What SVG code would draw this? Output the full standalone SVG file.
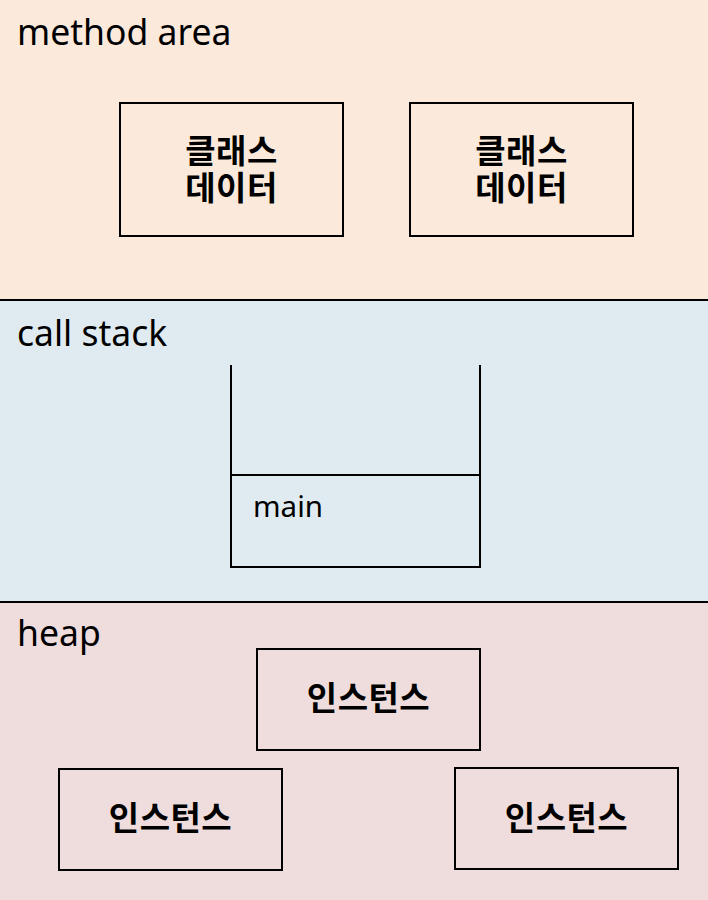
<svg xmlns="http://www.w3.org/2000/svg" width="708" height="900" viewBox="0 0 708 900">
<style>
.lbl{font-family:"Noto Sans","Noto Sans CJK KR",sans-serif;font-size:35.5px;fill:#000}
.kr{font-family:"Noto Sans CJK KR",sans-serif;font-size:33px;font-weight:bold;fill:#000;text-anchor:middle;letter-spacing:0.5px}
.box{fill:none;stroke:#000;stroke-width:2}
.ln{stroke:#000;stroke-width:2;fill:none}
</style>
<g id="regions">
<rect x="0" y="0" width="708" height="300" fill="#FBE9DB"/>
<rect x="0" y="300" width="708" height="302" fill="#DFEBF1"/>
<rect x="0" y="602" width="708" height="298" fill="#EFDCDC"/>
<line class="ln" x1="0" y1="300" x2="708" y2="300"/>
<line class="ln" x1="0" y1="602" x2="708" y2="602"/>
<text class="lbl" x="17" y="45">method area</text>
<text class="lbl" x="17" y="346">call stack</text>
<text class="lbl" x="17" y="646">heap</text>
</g>
<g id="class1">
<rect class="box" x="120" y="103" width="223" height="133"/>
<text class="kr"><tspan x="231.5" y="163">클래스</tspan><tspan x="231.5" y="200">데이터</tspan></text>
</g>
<g id="class2">
<rect class="box" x="410" y="103" width="223" height="133"/>
<text class="kr"><tspan x="521.5" y="163">클래스</tspan><tspan x="521.5" y="200">데이터</tspan></text>
</g>
<g id="stack">
<path class="ln" d="M231 365 V567 H480 V365"/>
<line class="ln" x1="231" y1="475" x2="480" y2="475"/>
<text class="lbl" x="253" y="517" style="font-size:29.5px">main</text>
</g>
<g id="inst1">
<rect class="box" x="257" y="649" width="223" height="101"/>
<text class="kr" x="368.5" y="710">인스턴스</text>
</g>
<g id="inst2">
<rect class="box" x="59" y="769" width="223" height="101"/>
<text class="kr" x="170.5" y="830">인스턴스</text>
</g>
<g id="inst3">
<rect class="box" x="455" y="768" width="223" height="101"/>
<text class="kr" x="566.5" y="830">인스턴스</text>
</g>
<g id="connectors"></g>
</svg>
